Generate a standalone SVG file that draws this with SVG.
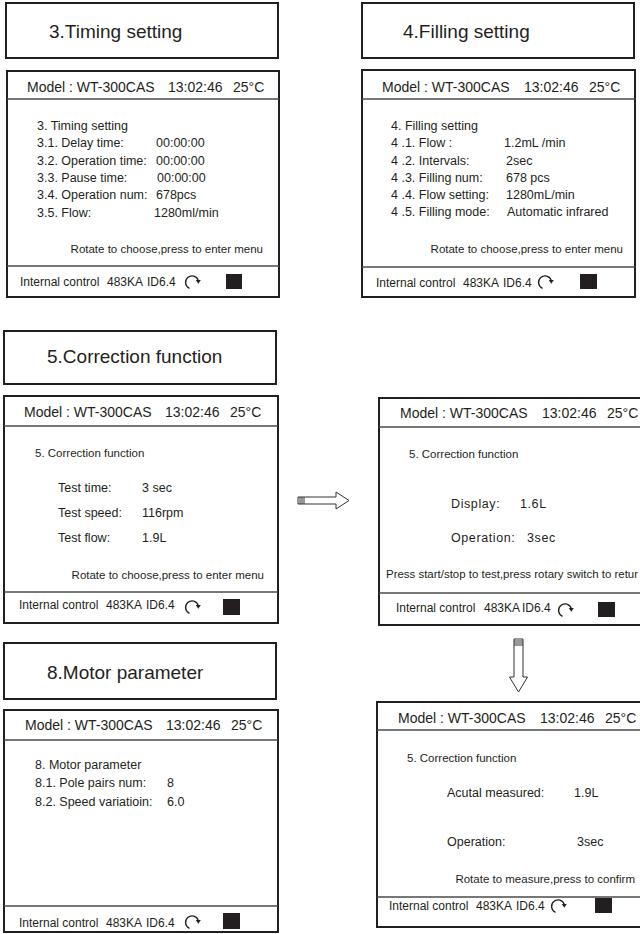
<svg xmlns="http://www.w3.org/2000/svg" width="640" height="934" viewBox="0 0 640 934">
<style>
text{font-family:"Liberation Sans",Arial,sans-serif;fill:#231f20}
.box{fill:#fff;stroke:#231f20;stroke-width:2}
.sep{stroke:#4a4a4a;stroke-width:1.5}
.title{font-size:19px}
.hdr{font-size:14px}
.body{font-size:12.5px}
.sm{font-size:11.5px}
.ft{font-size:12px}
.sq{fill:#231f20}
.ico{fill:none;stroke:#231f20;stroke-width:1.3}
.arr{fill:#fff;stroke:#333;stroke-width:1}
</style>
<defs>
<g id="icon">
<path class="ico" d="M-2.5,6.3 A6.5,6.5 0 1,1 6.3,-1.5"/>
<path d="M3.8,-2 L8.8,-2 L6.3,1.8 Z" fill="#231f20"/>
</g>
</defs>
<rect width="640" height="934" fill="#fff"/>

<g id="title-timing">
<rect class="box" x="6" y="3" width="272" height="55"/>
<text class="title" x="49" y="38">3.Timing setting</text>
</g>
<g id="title-filling">
<rect class="box" x="362" y="3" width="272" height="55"/>
<text class="title" x="403" y="38">4.Filling setting</text>
</g>
<g id="title-correction">
<rect class="box" x="4" y="331" width="272" height="53"/>
<text class="title" x="47" y="363">5.Correction function</text>
</g>
<g id="title-motor">
<rect class="box" x="4" y="643" width="272" height="56"/>
<text class="title" x="47" y="679">8.Motor parameter</text>
</g>

<g id="screen-timing">
<rect class="box" x="7" y="71" width="272" height="226"/>
<line class="sep" x1="7" y1="99" x2="279" y2="99"/>
<line class="sep" x1="7" y1="266" x2="279" y2="266"/>
<text class="hdr" y="92"><tspan x="27">Model : WT-300CAS</tspan><tspan x="168">13:02:46</tspan><tspan x="233">25°C</tspan></text>
<text class="body" x="37" y="130">3. Timing setting</text>
<text class="body" x="37" y="147">3.1. Delay time:</text>
<text class="body" x="37" y="165">3.2. Operation time:</text>
<text class="body" x="37" y="182">3.3. Pause time:</text>
<text class="body" x="37" y="199">3.4. Operation num:</text>
<text class="body" x="37" y="217">3.5. Flow:</text>
<text class="body" x="156" y="147">00:00:00</text>
<text class="body" x="156" y="165">00:00:00</text>
<text class="body" x="157" y="182">00:00:00</text>
<text class="body" x="156" y="199">678pcs</text>
<text class="body" x="154" y="217">1280ml/min</text>
<text class="sm" x="263" y="253" text-anchor="end">Rotate to choose,press to enter menu</text>
<text class="ft" y="286"><tspan x="20">Internal control</tspan><tspan x="107">483KA</tspan><tspan x="147">ID6.4</tspan></text>
<use href="#icon" x="192" y="282"/>
<rect class="sq" x="226" y="274" width="16" height="15"/>
</g>

<g id="screen-filling">
<rect class="box" x="362" y="70" width="273" height="227"/>
<line class="sep" x1="362" y1="99" x2="635" y2="99"/>
<line class="sep" x1="362" y1="267" x2="635" y2="267"/>
<text class="hdr" y="92"><tspan x="382">Model : WT-300CAS</tspan><tspan x="524">13:02:46</tspan><tspan x="589">25°C</tspan></text>
<text class="body" x="391" y="130">4. Filling setting</text>
<text class="body" x="391" y="147">4 .1. Flow :</text>
<text class="body" x="391" y="165">4 .2. Intervals:</text>
<text class="body" x="391" y="182">4 .3. Filling num:</text>
<text class="body" x="391" y="199">4 .4. Flow setting:</text>
<text class="body" x="391" y="216">4 .5. Filling mode:</text>
<text class="body" x="504" y="147">1.2mL /min</text>
<text class="body" x="506" y="165">2sec</text>
<text class="body" x="506" y="182">678 pcs</text>
<text class="body" x="506" y="199">1280mL/min</text>
<text class="body" x="507" y="216">Automatic infrared</text>
<text class="sm" x="623" y="253" text-anchor="end">Rotate to choose,press to enter menu</text>
<text class="ft" y="287"><tspan x="376">Internal control</tspan><tspan x="463">483KA</tspan><tspan x="503">ID6.4</tspan></text>
<use href="#icon" x="545" y="282"/>
<rect class="sq" x="580" y="274" width="17" height="15"/>
</g>

<g id="screen-correction">
<rect class="box" x="4" y="396" width="274" height="227"/>
<line class="sep" x1="4" y1="426" x2="278" y2="426"/>
<line class="sep" x1="4" y1="592" x2="278" y2="592"/>
<text class="hdr" y="417"><tspan x="24">Model : WT-300CAS</tspan><tspan x="165">13:02:46</tspan><tspan x="230">25°C</tspan></text>
<text class="sm" x="35" y="457">5. Correction function</text>
<text class="body" x="58" y="492">Test time:</text>
<text class="body" x="58" y="517">Test speed:</text>
<text class="body" x="58" y="542">Test flow:</text>
<text class="body" x="142" y="492">3 sec</text>
<text class="body" x="142" y="517">116rpm</text>
<text class="body" x="142" y="542">1.9L</text>
<text class="sm" x="264" y="579" text-anchor="end">Rotate to choose,press to enter menu</text>
<text class="ft" y="609"><tspan x="19">Internal control</tspan><tspan x="106">483KA</tspan><tspan x="146">ID6.4</tspan></text>
<use href="#icon" x="192" y="607"/>
<rect class="sq" x="223" y="599" width="17" height="16"/>
</g>

<g id="screen-display">
<rect class="box" x="379" y="398" width="280" height="227"/>
<line class="sep" x1="379" y1="427" x2="640" y2="427"/>
<line class="sep" x1="379" y1="593" x2="640" y2="593"/>
<text class="hdr" y="418"><tspan x="400">Model : WT-300CAS</tspan><tspan x="542">13:02:46</tspan><tspan x="607">25°C</tspan></text>
<text class="sm" x="409" y="458">5. Correction function</text>
<text class="body" x="451" y="508" letter-spacing="0.6">Display:</text>
<text class="body" x="520" y="508" letter-spacing="0.6">1.6L</text>
<text class="body" x="451" y="542" letter-spacing="0.6">Operation:</text>
<text class="body" x="527" y="542" letter-spacing="0.6">3sec</text>
<text class="sm" x="386" y="578" textLength="252" lengthAdjust="spacingAndGlyphs">Press start/stop to test,press rotary switch to retur</text>
<text class="ft" y="612"><tspan x="396">Internal control</tspan><tspan x="484">483KA</tspan><tspan x="522">ID6.4</tspan></text>
<use href="#icon" x="565" y="610"/>
<rect class="sq" x="598" y="602" width="17" height="15"/>
</g>

<g id="screen-motor">
<rect class="box" x="4" y="710" width="274" height="222"/>
<line class="sep" x1="4" y1="740" x2="278" y2="740"/>
<line class="sep" x1="4" y1="906" x2="278" y2="906"/>
<text class="hdr" y="730"><tspan x="25">Model : WT-300CAS</tspan><tspan x="166">13:02:46</tspan><tspan x="231">25°C</tspan></text>
<text class="body" x="35" y="769">8. Motor parameter</text>
<text class="body" x="35" y="787">8.1. Pole pairs num:</text>
<text class="body" x="35" y="806">8.2. Speed variatioin:</text>
<text class="body" x="167" y="787">8</text>
<text class="body" x="167" y="806">6.0</text>
<text class="ft" y="927"><tspan x="19">Internal control</tspan><tspan x="106">483KA</tspan><tspan x="146">ID6.4</tspan></text>
<use href="#icon" x="192" y="922"/>
<rect class="sq" x="223" y="913" width="17" height="16"/>
</g>

<g id="screen-measured">
<rect class="box" x="377" y="702" width="280" height="225"/>
<line class="sep" x1="377" y1="730" x2="640" y2="730"/>
<line class="sep" x1="377" y1="897" x2="640" y2="897"/>
<text class="hdr" y="723"><tspan x="398">Model : WT-300CAS</tspan><tspan x="540">13:02:46</tspan><tspan x="605">25°C</tspan></text>
<text class="sm" x="407" y="762">5. Correction function</text>
<text class="body" x="447" y="797">Acutal measured:</text>
<text class="body" x="574" y="797">1.9L</text>
<text class="body" x="447" y="846">Operation:</text>
<text class="body" x="577" y="846">3sec</text>
<text class="sm" x="635" y="883" text-anchor="end">Rotate to measure,press to confirm</text>
<text class="ft" y="910"><tspan x="389">Internal control</tspan><tspan x="476">483KA</tspan><tspan x="516">ID6.4</tspan></text>
<use href="#icon" x="558" y="906"/>
<rect class="sq" x="595" y="898" width="17" height="15"/>
</g>

<g id="connectors">
<polygon class="arr" points="298,497 336,497 336,492 349,500.5 336,509 336,504 298,504"/>
<line x1="300" y1="497" x2="300" y2="504" stroke="#333" stroke-width="1"/>
<line x1="302" y1="497" x2="302" y2="504" stroke="#333" stroke-width="1"/>
<line x1="304" y1="497" x2="304" y2="504" stroke="#333" stroke-width="1"/>
<polygon class="arr" points="514,639 523,639 523,677 527.5,677 518.5,692 509.5,677 514,677"/>
<line x1="514" y1="641" x2="523" y2="641" stroke="#333" stroke-width="1"/>
<line x1="514" y1="643" x2="523" y2="643" stroke="#333" stroke-width="1"/>
<line x1="514" y1="645" x2="523" y2="645" stroke="#333" stroke-width="1"/>
</g>
</svg>
